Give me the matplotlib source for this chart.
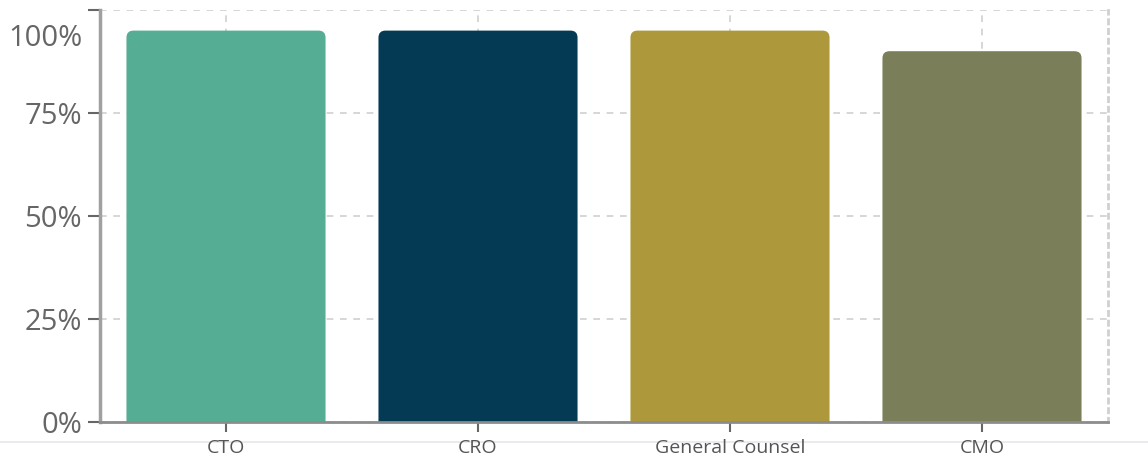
import matplotlib
matplotlib.use("Agg")
import matplotlib.pyplot as plt
from matplotlib.patches import FancyBboxPatch
from matplotlib.lines import Line2D

roles = ["CTO", "CRO", "General Counsel", "CMO"]
share = [95, 95, 95, 90]  # percent
colors = ["#55ad94", "#053a54", "#ad993b", "#7a7f5a"]
yticks = [0, 25, 50, 75, 100]
ylabels = ["0%", "25%", "50%", "75%", "100%"]

plt.rcParams['font.family'] = ['Open Sans', 'DejaVu Sans']

W, H = 1148, 458
fig = plt.figure(figsize=(W / 100, H / 100), dpi=100)
ax = fig.add_axes([100 / W, (H - 422) / H, (1108 - 100) / W, (422 - 10) / H])

x = list(range(len(roles)))
bars = ax.bar(x, share, width=0.79, color=colors, zorder=3)

# swap plain bars for ones with rounded corners
px_x = (1108 - 100) / 4.0      # pixels per x unit
px_y = (422 - 10) / 100.0      # pixels per y unit
r = 7 / px_x
for b in bars:
    x0, w, h = b.get_x(), b.get_width(), b.get_height()
    b.set_visible(False)
    p = FancyBboxPatch((x0, -5), w, h + 5,
                       boxstyle=f"round,pad=0,rounding_size={r}",
                       mutation_aspect=px_x / px_y,
                       facecolor=b.get_facecolor(), edgecolor="none", zorder=3)
    ax.add_patch(p)

ax.set_xlim(-0.5, 3.5)
ax.set_ylim(0, 100)

ax.set_yticks(yticks)
ax.set_yticklabels(ylabels[:-1] + [""])
ax.annotate(ylabels[-1], xy=(0, 100), xycoords=("axes fraction", "data"),
            xytext=(-17, -28), textcoords="offset pixels",
            ha="right", va="center", fontsize=21, color="#666666")
ax.set_xticks(x)
ax.set_xticklabels(roles)

ax.tick_params(axis="y", length=9, width=1.5, color="#666666", pad=4,
               labelsize=21, labelcolor="#666666")
ax.tick_params(axis="x", length=7, width=1.5, color="#666666", pad=5,
               labelsize=14, labelcolor="#555555")

ax.grid(True, color="#cfcfcf", linestyle=(0, (4, 4)), linewidth=1.2, zorder=0)
ax.set_axisbelow(True)

ax.spines["top"].set_visible(False)
ax.spines["right"].set_color("#d0d0d0")
ax.spines["right"].set_linestyle((0, (1.5, 2)))
ax.spines["right"].set_linewidth(2)
ax.spines["left"].set_color("#a0a0a0")
ax.spines["left"].set_linewidth(2.5)
ax.spines["bottom"].set_color("#8c8c8c")
ax.spines["bottom"].set_linewidth(2)
for s in ["left", "bottom"]:
    ax.spines[s].set_zorder(4)

# thin separator below the chart, behind the tick labels
sep = Line2D([0, 1], [(H - 442) / H] * 2, color="#e6e8ec", lw=1.2,
             transform=fig.transFigure, zorder=-1)
fig.add_artist(sep)

fig.savefig("out.png", dpi=100)
